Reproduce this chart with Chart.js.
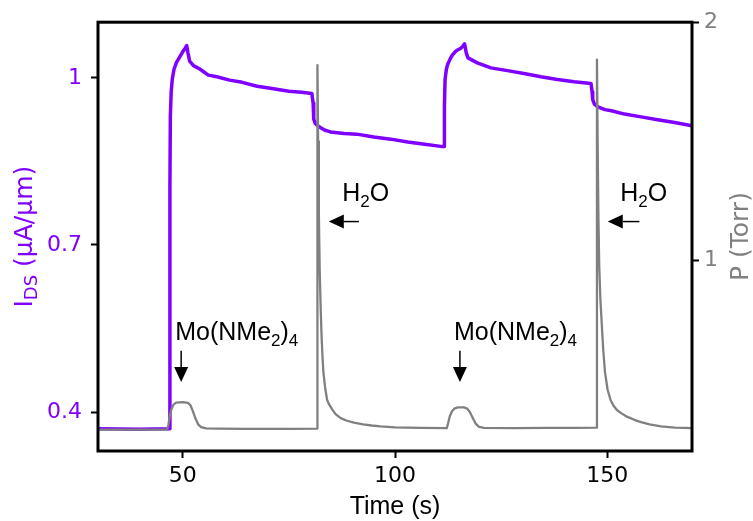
<!DOCTYPE html>
<html>
<head>
<meta charset="utf-8">
<script src="https://cdn.jsdelivr.net/npm/chart.js@4.4.0/dist/chart.umd.min.js"></script>
<style>
  body { margin: 0; background: #fff; }
  #wrap { width: 753px; height: 521px; }
</style>
</head>
<body>
<div id="wrap"><canvas id="chart" width="753" height="521"></canvas></div>
<script>
// Drain current trace, left axis (uA/um)
const currentTime = [30, 40, 46.8, 46.95, 47.05, 47.25, 47.5, 47.9, 48.5, 49.2, 49.9, 50.5, 50.9, 51.2, 51.6, 52.5, 54, 56,
  58, 61, 64, 67.5, 71, 75, 78, 80.4, 80.7, 80.85, 81.2, 81.8, 82.4, 83.5, 84.8, 88, 91, 95, 99, 103, 107, 110.8, 111.55,
  111.65, 111.8, 112.1, 112.4, 113, 113.5, 114.2, 114.7, 115.5, 116.0, 116.4, 116.8, 117.2, 119.4, 122.6, 126.5, 130.4,
  134.4, 138.3, 142.2, 146.2, 146.45, 146.6, 147.0, 147.6, 148.1, 149.5, 151, 154.1, 158, 161.9, 165.9, 170];
const currentVal = [0.370, 0.369, 0.370, 0.800, 0.930, 0.975, 0.997, 1.015, 1.028, 1.037, 1.046, 1.053, 1.058, 1.045,
  1.030, 1.022, 1.016, 1.005, 1.002, 0.996, 0.992, 0.985, 0.981, 0.976, 0.974, 0.972, 0.955, 0.926, 0.918, 0.914, 0.911,
  0.906, 0.903, 0.900, 0.899, 0.894, 0.890, 0.885, 0.881, 0.877, 0.877, 0.950, 0.997, 1.015, 1.024, 1.034, 1.041, 1.047,
  1.050, 1.053, 1.057, 1.061, 1.045, 1.036, 1.027, 1.018, 1.013, 1.008, 1.002, 0.997, 0.993, 0.990, 0.975, 0.961, 0.953,
  0.949, 0.947, 0.943, 0.941, 0.935, 0.930, 0.925, 0.920, 0.914];

// Chamber pressure trace, right axis (Torr)
const pressureTime = [30, 46.3, 46.6, 46.9, 47.3, 47.8, 48.4, 50.0, 51.2, 51.8, 52.4, 53.0, 53.6, 54.3, 55.5, 58, 65, 75,
  81.62, 81.72, 81.88, 82.05, 82.25, 82.5, 82.7, 82.9, 83.1, 83.5, 84.0, 84.5, 85.2, 86.0, 87.2, 88.5, 90.3, 92.5,
  94.5, 96.6, 100, 106, 112.2, 112.5, 112.9, 113.4, 114.0, 114.8, 116.3, 117.0, 117.6, 118.3, 119.0, 119.8, 121, 128,
  136, 143, 147.5, 147.6, 147.76, 147.93, 148.13, 148.4, 148.73, 149.1, 149.5, 150.1, 150.8, 151.5, 152.3, 153.3,
  154.8, 156.4, 158, 160, 162.7, 166, 170];
const pressureVal = [0.290, 0.290, 0.310, 0.345, 0.375, 0.395, 0.403, 0.405, 0.402, 0.392, 0.365, 0.335, 0.312, 0.300,
  0.295, 0.294, 0.293, 0.293, 0.294, 1.820, 1.500, 1.200, 0.960, 0.790, 0.680, 0.600, 0.535, 0.470, 0.414, 0.395,
  0.375, 0.355, 0.338, 0.328, 0.319, 0.312, 0.307, 0.303, 0.299, 0.297, 0.296, 0.315, 0.345, 0.366, 0.378, 0.383, 0.383,
  0.378, 0.365, 0.340, 0.315, 0.301, 0.297, 0.296, 0.297, 0.297, 0.298, 1.843, 1.500, 1.200, 0.980, 0.840, 0.733, 0.620,
  0.530, 0.458, 0.414, 0.390, 0.372, 0.359, 0.343, 0.331, 0.321, 0.312, 0.303, 0.298, 0.296];

const xTicks = [50, 100, 150];
const leftTicks = [0.4, 0.7, 1];
const rightTicks = [1, 2];

// pulse labels, placed in data units (time, current)
const precursorMarks = [{ t: 49.6, text: 48.2 }, { t: 115.3, text: 113.9 }];
const waterMarks = [{ tip: 84.4, tail: 91.5, text: 87.55 }, { tip: 150.15, tail: 157.6, text: 153.1 }];

const PURPLE = '#7f00ff';
const GRAY = '#808080';

function toPoints(xs, ys) {
  return xs.map((x, i) => ({ x: x, y: ys[i] }));
}

function richWidth(ctx, parts) {
  let w = 0;
  parts.forEach(p => {
    ctx.font = p.font;
    w += ctx.measureText(p.text).width;
  });
  return w;
}

function drawRich(ctx, parts, x, y) {
  parts.forEach(p => {
    ctx.font = p.font;
    ctx.fillText(p.text, x, y + (p.dy || 0));
    x += ctx.measureText(p.text).width;
  });
}

function arrow(ctx, x1, y1, x2, y2) {
  const ang = Math.atan2(y2 - y1, x2 - x1);
  const len = 15, half = 7;
  const bx = x2 - len * Math.cos(ang), by = y2 - len * Math.sin(ang);
  ctx.beginPath();
  ctx.moveTo(x1, y1);
  ctx.lineTo(bx, by);
  ctx.lineWidth = 1.5;
  ctx.stroke();
  ctx.beginPath();
  ctx.moveTo(x2, y2);
  ctx.lineTo(bx + half * Math.sin(ang), by - half * Math.cos(ang));
  ctx.lineTo(bx - half * Math.sin(ang), by + half * Math.cos(ang));
  ctx.closePath();
  ctx.fill();
}

const decorations = {
  id: 'decorations',
  afterDatasetsDraw(chart) {
    const { ctx, chartArea: a, scales } = chart;
    const sx = scales.x, sy = scales.y;
    ctx.save();

    // frame
    ctx.strokeStyle = '#000';
    ctx.lineWidth = 3;
    ctx.strokeRect(a.left, a.top, a.right - a.left, a.bottom - a.top);

    const main = '25px "Liberation Sans", Arial, sans-serif';
    const sub = '17px "Liberation Sans", Arial, sans-serif';
    ctx.fillStyle = '#000';
    ctx.strokeStyle = '#000';
    ctx.textBaseline = 'alphabetic';
    ctx.textAlign = 'left';

    precursorMarks.forEach(m => {
      drawRich(ctx, [
        { text: 'Mo(NMe', font: main },
        { text: '2', font: sub, dy: 6 },
        { text: ')', font: main },
        { text: '4', font: sub, dy: 6 }
      ], sx.getPixelForValue(m.text), sy.getPixelForValue(0.529));
      const x = sx.getPixelForValue(m.t);
      arrow(ctx, x, sy.getPixelForValue(0.510), x, sy.getPixelForValue(0.454));
    });

    waterMarks.forEach(m => {
      drawRich(ctx, [
        { text: 'H', font: main },
        { text: '2', font: sub, dy: 6 },
        { text: 'O', font: main }
      ], sx.getPixelForValue(m.text), sy.getPixelForValue(0.779));
      const y = sy.getPixelForValue(0.742);
      arrow(ctx, sx.getPixelForValue(m.tail), y, sx.getPixelForValue(m.tip), y);
    });

    // axis titles
    const lab = '25px "DejaVu Sans", sans-serif';
    const labSub = '18px "DejaVu Sans", sans-serif';
    const midY = (a.top + a.bottom) / 2;

    ctx.textAlign = 'center';
    ctx.fillText('Time (s)', (a.left + a.right) / 2, 514);

    ctx.textAlign = 'left';
    const leftParts = [
      { text: 'I', font: lab },
      { text: 'DS', font: labSub, dy: 5 },
      { text: ' (\u03bcA/\u03bcm)', font: lab }
    ];
    ctx.save();
    ctx.translate(32, midY);
    ctx.rotate(-Math.PI / 2);
    ctx.fillStyle = PURPLE;
    drawRich(ctx, leftParts, -richWidth(ctx, leftParts) / 2, 0);
    ctx.restore();

    ctx.save();
    ctx.translate(748, midY);
    ctx.rotate(-Math.PI / 2);
    ctx.fillStyle = GRAY;
    ctx.textAlign = 'center';
    ctx.font = lab;
    ctx.fillText('P (Torr)', 0, 0);
    ctx.restore();

    ctx.restore();
  }
};

const tickFont = { family: 'DejaVu Sans', size: 22 };

new Chart(document.getElementById('chart').getContext('2d'), {
  type: 'line',
  data: {
    datasets: [{
      label: 'P',
      data: toPoints(pressureTime, pressureVal),
      yAxisID: 'y1',
      borderColor: GRAY,
      borderWidth: 2.3,
      pointRadius: 0,
      tension: 0,
      borderJoinStyle: 'round',
      order: 0
    }, {
      label: 'IDS',
      data: toPoints(currentTime, currentVal),
      yAxisID: 'y',
      borderColor: PURPLE,
      borderWidth: 3.5,
      pointRadius: 0,
      tension: 0,
      borderJoinStyle: 'round',
      order: 1
    }]
  },
  options: {
    responsive: false,
    animation: false,
    layout: { padding: { top: 18, left: 0, right: 0, bottom: 0 } },
    plugins: { legend: { display: false }, tooltip: { enabled: false } },
    scales: {
      x: {
        type: 'linear',
        min: 30,
        max: 170,
        afterBuildTicks: s => { s.ticks = xTicks.map(v => ({ value: v })); },
        afterFit: s => { s.height = 70; },
        grid: { drawOnChartArea: false, drawTicks: true, tickLength: 7, tickWidth: 2, tickColor: '#000' },
        border: { display: false },
        ticks: { color: '#000', font: tickFont, padding: 5, maxRotation: 0, callback: v => String(v) }
      },
      y: {
        type: 'linear',
        position: 'left',
        min: 0.33,
        max: 1.10,
        afterBuildTicks: s => { s.ticks = leftTicks.map(v => ({ value: v })); },
        afterFit: s => { s.width = 98; },
        grid: { drawOnChartArea: false, drawTicks: true, tickLength: 7, tickWidth: 2, tickColor: '#000' },
        border: { display: false },
        ticks: { color: PURPLE, font: tickFont, padding: 9, callback: v => (v === 1 ? '1' : v.toFixed(1)) }
      },
      y1: {
        type: 'linear',
        position: 'right',
        min: 0.2,
        max: 2.0,
        afterBuildTicks: s => { s.ticks = rightTicks.map(v => ({ value: v })); },
        afterFit: s => { s.width = 61; },
        grid: { drawOnChartArea: false, drawTicks: true, tickLength: 7, tickWidth: 2, tickColor: '#000' },
        border: { display: false },
        ticks: { color: GRAY, font: tickFont, padding: 5, callback: v => String(v) }
      }
    }
  },
  plugins: [decorations]
});
</script>
</body>
</html>
